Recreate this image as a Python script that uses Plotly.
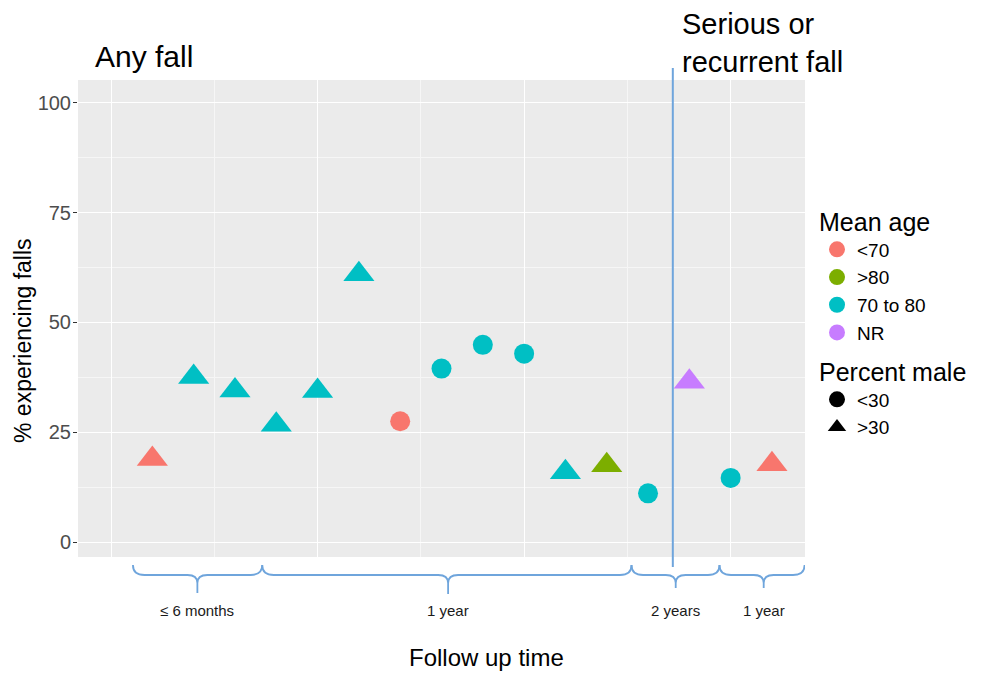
import plotly.graph_objects as go

# ---------------- data ----------------
study_index = list(range(1, 17))
pct_falls = [18.9, 37.6, 34.5, 26.7, 34.4, 61.0, 27.5, 39.5, 44.9, 42.9,
             15.9, 17.5, 11.1, 36.5, 14.6, 17.7]
mean_age = ["<70", "70 to 80", "70 to 80", "70 to 80", "70 to 80", "70 to 80",
            "<70", "70 to 80", "70 to 80", "70 to 80", "70 to 80", ">80",
            "70 to 80", "NR", "70 to 80", "<70"]
pct_male = [">30", ">30", ">30", ">30", ">30", ">30", "<30", "<30", "<30", "<30",
            ">30", ">30", "<30", ">30", "<30", ">30"]
age_levels = ["<70", ">80", "70 to 80", "NR"]
male_levels = ["<30", ">30"]
followup_labels = ["≤ 6 months", "1 year", "2 years", "1 year"]
y_ticks = [0, 25, 50, 75, 100]
outcome_split = 13.6  # boundary between "Any fall" and "Serious or recurrent fall"

# ---------------- styles ----------------
age_colors = {"<70": "#F8766D", ">80": "#7CAE00", "70 to 80": "#00BFC4", "NR": "#C77CFF"}
male_symbols = {"<30": "circle", ">30": "triangle-up"}
male_sizes = {"<30": 20, ">30": 27}
FONT = "Liberation Sans, Arial, Helvetica, sans-serif"
BLUE = "#6FA5DC"

# page has an 8px body margin: compensate so the plot lands where the reference has it
OFF = 8
W, H = 984 - OFF, 673 - OFF
L, R, T, B = 78, 805, 80, 557          # plot panel, in page pixels
PW, PH = R - L, B - T


def px_x(p):
    return (p - L) / PW


def px_y(p):
    return (B - p) / PH


fig = go.Figure()

# data markers
for age in age_levels:
    for sx in male_levels:
        xs = [x for x, a, s in zip(study_index, mean_age, pct_male) if a == age and s == sx]
        ys = [y for y, a, s in zip(pct_falls, mean_age, pct_male) if a == age and s == sx]
        if not xs:
            continue
        fig.add_trace(go.Scatter(
            x=xs, y=ys, mode="markers", showlegend=False, hoverinfo="x+y",
            marker=dict(color=age_colors[age], symbol=male_symbols[sx],
                        size=male_sizes[sx], line=dict(width=0)),
        ))

# legend entries
for age in age_levels:
    fig.add_trace(go.Scatter(
        x=[None], y=[None], mode="markers", name=age, legend="legend",
        marker=dict(color=age_colors[age], symbol="circle", size=20, line=dict(width=0)),
    ))
for sx in male_levels:
    fig.add_trace(go.Scatter(
        x=[None], y=[None], mode="markers", name=sx, legend="legend2",
        marker=dict(color="black", symbol=male_symbols[sx], size=20, line=dict(width=0)),
    ))

# ---------------- shapes ----------------
shapes = [dict(type="line", xref="x", yref="paper", x0=outcome_split, x1=outcome_split,
               y0=px_y(567), y1=px_y(68), line=dict(color=BLUE, width=2))]

# braces (x0, x1, tip, bottom pixel)
braces = [(0.53, 3.66, 2.09, 593), (3.66, 12.60, 8.16, 594),
          (12.60, 14.73, 13.67, 588), (14.73, 16.79, 15.80, 588)]
w = 0.28
tw = 0.24
yt, ym = px_y(565), px_y(575)
for x0, x1, tip, yb_px in braces:
    yb = px_y(yb_px)
    yk = px_y(583)
    path = (f"M {x0},{yt} Q {x0},{ym} {x0 + w},{ym} L {tip - tw},{ym} "
            f"Q {tip},{ym} {tip},{yk} L {tip},{yb} L {tip},{yk} "
            f"Q {tip},{ym} {tip + tw},{ym} L {x1 - w},{ym} Q {x1},{ym} {x1},{yt}")
    shapes.append(dict(type="path", xref="x", yref="paper", path=path,
                       line=dict(color=BLUE, width=1.8)))

# ---------------- annotations ----------------
annotations = [
    dict(text="Any fall", xref="paper", yref="paper", x=px_x(93), y=px_y(57),
         xanchor="left", yanchor="middle", showarrow=False,
         font=dict(family=FONT, size=30, color="black")),
    dict(text="Serious or<br>recurrent fall", xref="paper", yref="paper",
         x=px_x(680), y=px_y(43), xanchor="left", yanchor="middle", align="left",
         showarrow=False, font=dict(family=FONT, size=29, color="black")),
    dict(text="Follow up time", xref="paper", yref="paper", x=px_x(486), y=px_y(657),
         xanchor="center", yanchor="middle", showarrow=False,
         font=dict(family=FONT, size=24, color="black")),
    dict(text="% experiencing falls", xref="paper", yref="paper", x=px_x(23), y=px_y(341),
         xanchor="center", yanchor="middle", textangle=-90, showarrow=False,
         font=dict(family=FONT, size=23, color="black")),
]
for (x0, x1, tip, _), lab in zip(braces, followup_labels):
    annotations.append(dict(text=lab, xref="x", yref="paper", x=tip, y=px_y(610),
                            xanchor="center", yanchor="middle", showarrow=False,
                            font=dict(family=FONT, size=15, color="#1A1A1A")))

fig.update_layout(
    width=W, height=H,
    margin=dict(l=L - OFF, r=W - (R - OFF), t=T - OFF, b=H - (B - OFF), pad=0),
    paper_bgcolor="white", plot_bgcolor="#EBEBEB",
    font=dict(family=FONT, color="black"),
    shapes=shapes, annotations=annotations,
    legend=dict(title=dict(text="Mean age", font=dict(size=25)), font=dict(size=19),
                x=px_x(817), y=px_y(198), xanchor="left", yanchor="top",
                bgcolor="rgba(0,0,0,0)", tracegroupgap=0, itemwidth=30),
    legend2=dict(title=dict(text="Percent male", font=dict(size=25)), font=dict(size=19),
                 x=px_x(817), y=px_y(348), xanchor="left", yanchor="top",
                 bgcolor="rgba(0,0,0,0)", tracegroupgap=0, itemwidth=30),
)

fig.update_xaxes(range=[-0.8, 16.8], showticklabels=False, ticks="", zeroline=False,
                 showline=False, tick0=0, dtick=5, showgrid=True, gridcolor="white",
                 gridwidth=1.2,
                 minor=dict(tick0=0, dtick=2.5, showgrid=True, gridcolor="#F6F6F6", gridwidth=0.6))
fig.update_yaxes(range=[-3.4, 105.2], tickvals=y_ticks, ticks="outside", ticklen=4,
                 tickcolor="#333333", tickwidth=1, zeroline=False, showline=False,
                 ticklabelstandoff=-2,
                 tickfont=dict(family=FONT, size=20, color="#4D4D4D"),
                 showgrid=True, gridcolor="white", gridwidth=1.2,
                 minor=dict(tick0=0, dtick=12.5, showgrid=True, gridcolor="#F6F6F6",
                            gridwidth=0.6, ticks=""))

fig.write_html("out.html")
